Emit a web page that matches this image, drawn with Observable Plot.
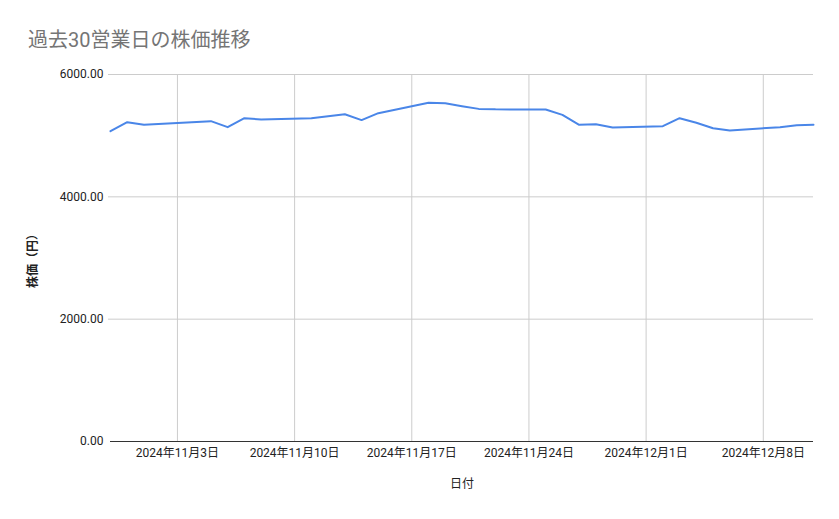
<!DOCTYPE html>
<html>
<head>
<meta charset="utf-8">
<script src="https://cdn.jsdelivr.net/npm/d3@7"></script>
<script src="https://cdn.jsdelivr.net/npm/@observablehq/plot@0.6"></script>
<style>
  body { margin: 0; background: #fff; }
  #wrap { position: relative; width: 839px; height: 519px; font-family: Roboto, "Noto Sans CJK JP", sans-serif; }
  #title { position: absolute; left: 28px; top: 24px; font-size: 20px; color: #757575; font-family: Roboto, "Noto Sans CJK JP", sans-serif; }
  #wrap svg { position: absolute; left: 0; top: 0; }
</style>
</head>
<body>
<div id="wrap"><div id="title">過去30営業日の株価推移</div></div>
<script>
const dates = [
  "2024-10-30","2024-10-31","2024-11-01","2024-11-05","2024-11-06","2024-11-07","2024-11-08",
  "2024-11-11","2024-11-12","2024-11-13","2024-11-14","2024-11-15","2024-11-18","2024-11-19",
  "2024-11-20","2024-11-21","2024-11-22","2024-11-25","2024-11-26","2024-11-27","2024-11-28",
  "2024-11-29","2024-12-02","2024-12-03","2024-12-04","2024-12-05","2024-12-06","2024-12-09",
  "2024-12-10","2024-12-11"
];
const prices = [
  5073, 5220, 5177, 5237, 5139, 5286, 5264,
  5286, 5318, 5351, 5255, 5368, 5537, 5531,
  5482, 5438, 5430, 5427, 5340, 5177, 5188,
  5133, 5155, 5286, 5210, 5122, 5084, 5139,
  5172, 5177
];
const xTickDates = ["2024-11-03","2024-11-10","2024-11-17","2024-11-24","2024-12-01","2024-12-08"];
const yTicks = [0, 2000, 4000, 6000];
const xDomain = ["2024-10-30", "2024-12-11"];

const data = dates.map((d, i) => ({date: new Date(d + "T00:00:00Z"), price: prices[i]}));
const xt = xTickDates.map(d => new Date(d + "T00:00:00Z"));
const fmtDate = d => `${d.getUTCFullYear()}年${d.getUTCMonth() + 1}月${d.getUTCDate()}日`;

const chart = Plot.plot({
  width: 839,
  height: 519,
  marginLeft: 110,
  marginRight: 26,
  marginTop: 74,
  marginBottom: 78,
  style: {fontFamily: 'Roboto, "Noto Sans CJK JP", sans-serif', fontSize: "12px", color: "#222", background: "transparent"},
  x: {type: "utc", domain: xDomain.map(d => new Date(d + "T00:00:00Z"))},
  y: {domain: [0, 6000]},
  marks: [
    Plot.ruleY(yTicks.filter(v => v > 0), {stroke: "#cccccc", insetLeft: -2}),
    Plot.ruleX(xt, {stroke: "#cccccc"}),
    Plot.axisY({ticks: yTicks, tickSize: 0, tickPadding: 7, tickFormat: d => d.toFixed(2), label: null, fontSize: 12}),
    Plot.axisX({ticks: xt, tickSize: 0, tickPadding: 7, tickFormat: fmtDate, label: null, fontSize: 12}),
    Plot.ruleY([0], {stroke: "#333333"}),
    Plot.line(data, {x: "date", y: "price", stroke: "#4a86e8", strokeWidth: 2, strokeLinejoin: "round"}),
    Plot.text(["株価（円）"], {frameAnchor: "left", textAnchor: "middle", dx: -77, dy: 0, rotate: -90, fontSize: 12, fontWeight: "bold", fill: "#222"}),
    Plot.text(["日付"], {frameAnchor: "bottom", dy: 46, fontSize: 12, fill: "#222"})
  ]
});
document.getElementById("wrap").appendChild(chart);
</script>
</body>
</html>
